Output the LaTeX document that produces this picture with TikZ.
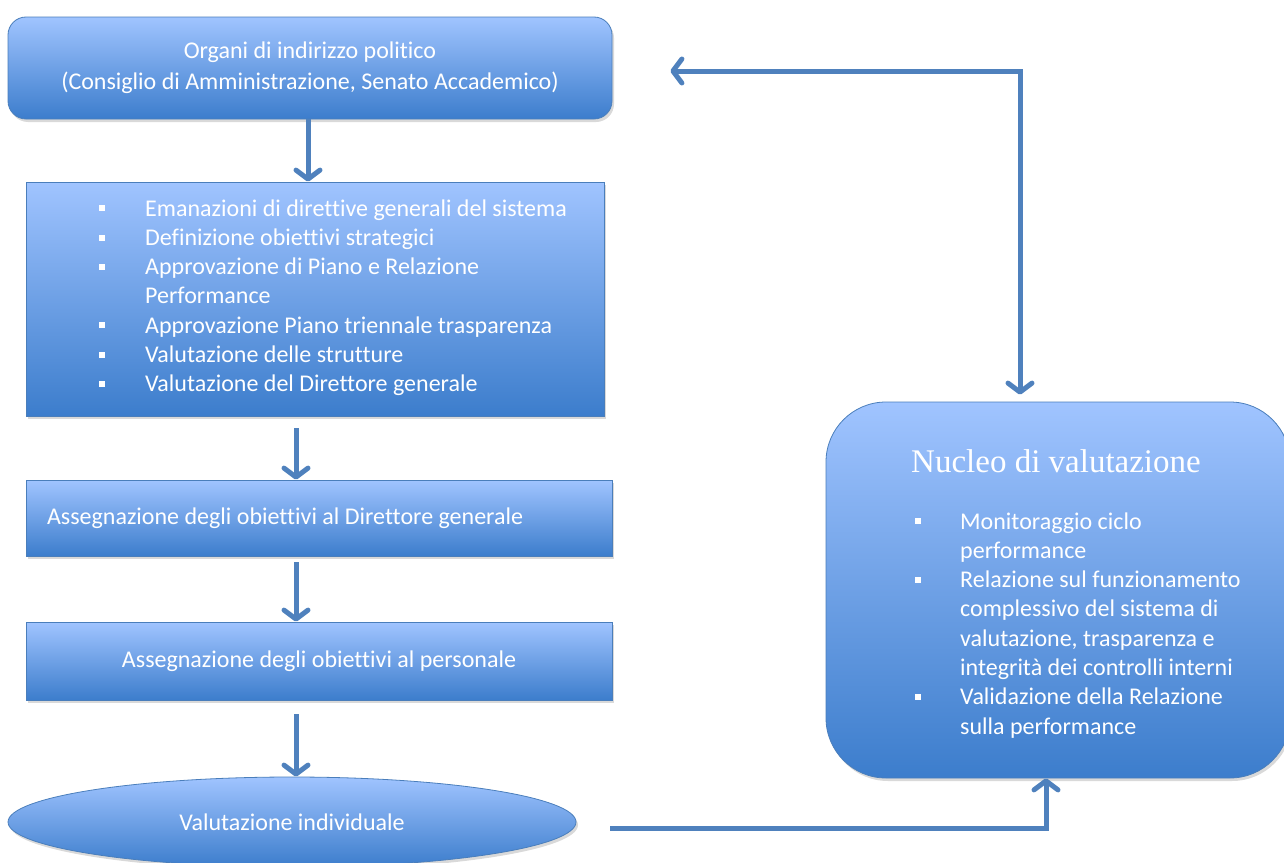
\documentclass[tikz,border=0pt]{standalone}
\usepackage{fontspec}
\setmainfont[Ligatures=NoCommon]{Carlito}
\newfontfamily\titlefont{Liberation Serif}
\usetikzlibrary{shapes.geometric,arrows.meta,shadows,calc}
\definecolor{arrowblue}{RGB}{79,129,189}
\definecolor{topblue}{RGB}{160,196,255}
\definecolor{botblue}{RGB}{60,125,204}
\definecolor{edgeblue}{RGB}{74,126,187}
\newcommand{\sqbul}{\rule[0.2em]{6pt}{6pt}}
\begin{document}
\begin{tikzpicture}[x=1pt,y=-1pt,
  box/.style={draw=edgeblue, line width=0.8pt, top color=topblue, bottom color=botblue,
    text=white, font=\fontsize{24}{31}\selectfont, inner sep=0pt,
    drop shadow={opacity=0.3, shadow xshift=2pt, shadow yshift=-3pt}},
  listtext/.style={text=white, font=\fontsize{24}{29.3}\selectfont, inner sep=0pt},
  arr/.style={draw=arrowblue, line width=5pt, -{Straight Barb[length=9pt,width=24pt,round]}},
  arrboth/.style={draw=arrowblue, line width=5pt, {Straight Barb[length=9pt,width=24pt,round]}-{Straight Barb[length=9pt,width=24pt,round]}},
]
\useasboundingbox (0,0) rectangle (1284,862);

% nodes
\node[box, rounded corners=18pt, minimum width=604pt, minimum height=102pt, align=center] (organi) at (310,68)
  {Organi di indirizzo politico\\(Consiglio di Amministrazione, Senato Accademico)};

\node[box, minimum width=578pt, minimum height=234pt] (dir) at (315,299) {};
\node[listtext, anchor=base west] (dirlist) at (99,216) {\begin{tabular}[t]{@{}p{46pt}@{}l@{}}
\sqbul & Emanazioni di direttive generali del sistema\\
\sqbul & Definizione obiettivi strategici\\
\sqbul & Approvazione di Piano e Relazione\\
       & Performance\\
\sqbul & Approvazione Piano triennale trasparenza\\
\sqbul & Valutazione delle strutture\\
\sqbul & Valutazione del Direttore generale
\end{tabular}};

\node[box, minimum width=586pt, minimum height=76pt, text width=544pt, align=flush left] (dg) at (319,518)
  {Assegnazione degli obiettivi al Direttore generale};

\node[box, minimum width=586pt, minimum height=78pt, align=center] (pers) at (319,661)
  {Assegnazione degli obiettivi al personale};

\node[box, ellipse, minimum width=568pt, minimum height=90pt] (ind) at (292,822)
  {Valutazione individuale};

\node[box, rounded corners=60pt, minimum width=464pt, minimum height=376pt] (nucleo) at (1058,590) {};
\node[text=white, inner sep=0pt, anchor=base west, font=\titlefont\fontsize{33}{38}\selectfont] (ntitle) at (911,472)
  {Nucleo di valutazione};
\node[listtext, anchor=base west] (nlist) at (915,529) {\begin{tabular}[t]{@{}p{45pt}@{}l@{}}
\sqbul & Monitoraggio ciclo\\
       & performance\\
\sqbul & Relazione sul funzionamento\\
       & complessivo del sistema di\\
       & valutazione, trasparenza e\\
       & integrità dei controlli interni\\
\sqbul & Validazione della Relazione\\
       & sulla performance
\end{tabular}};

% axis for the small arrows
\coordinate (axis) at (296,0);

% connectors
\draw[arr] ([xshift=-2pt]organi.south) -- ([xshift=-2pt]organi.south |- dir.north);
\draw[arr] ($(dir.south -| axis)+(0,12)$) -- (dg.north -| axis);
\draw[arr] ($(dg.south -| axis)+(0,6)$) -- (pers.north -| axis);
\draw[arr] ($(pers.south -| axis)+(0,14)$) -- (ind.north -| axis);
\draw[arr] ($(ind.east)+(34,6)$) -| ($(nucleo.south)+(-12,0)$);
\draw[arrboth] ($(organi.east)+(58,3)$) -| ($(nucleo.north)+(-38,-7)$);
\end{tikzpicture}
\end{document}
